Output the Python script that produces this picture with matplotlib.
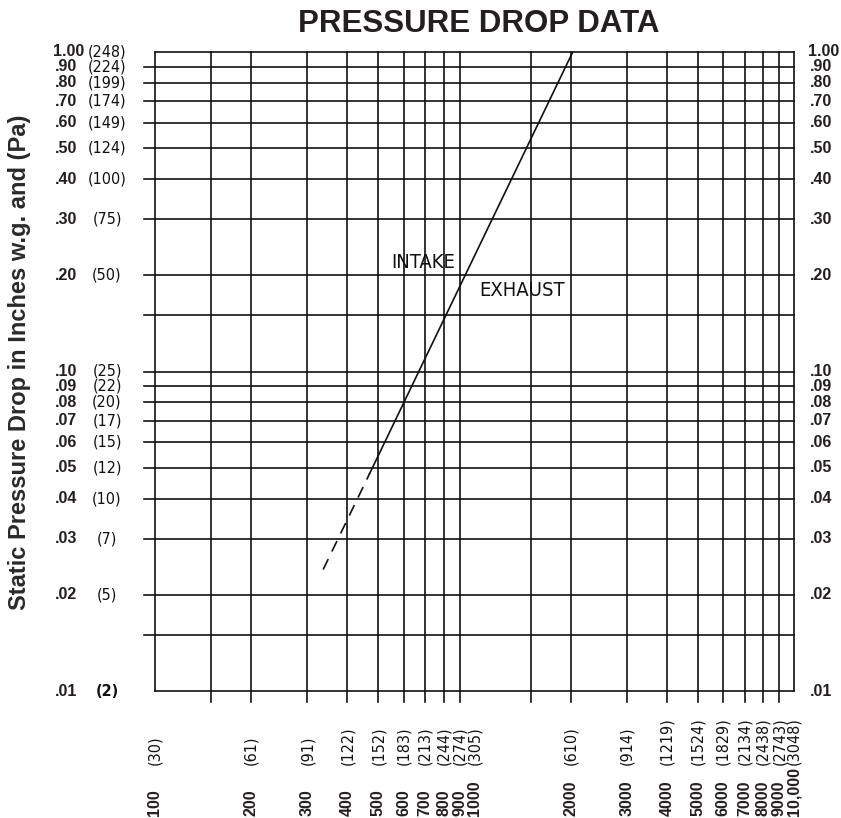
import matplotlib
matplotlib.use("Agg")
import matplotlib.pyplot as plt
from matplotlib.transforms import blended_transform_factory
from matplotlib.ticker import NullLocator

# Pressure axis (inches w.g.) with Pa equivalents
pressure_in = [1.00, 0.90, 0.80, 0.70, 0.60, 0.50, 0.40, 0.30, 0.20,
               0.10, 0.09, 0.08, 0.07, 0.06, 0.05, 0.04, 0.03, 0.02, 0.01]
pressure_text = ["1.00", ".90", ".80", ".70", ".60", ".50", ".40", ".30", ".20",
                 ".10", ".09", ".08", ".07", ".06", ".05", ".04", ".03", ".02", ".01"]
pressure_pa = ["(248)", "(224)", "(199)", "(174)", "(149)", "(124)", "(100)", "(75)", "(50)",
               "(25)", "(22)", "(20)", "(17)", "(15)", "(12)", "(10)", "(7)", "(5)", "(2)"]
pressure_extra = [0.15, 0.015]

# Flow axis with metric equivalents
flow = [100, 200, 300, 400, 500, 600, 700, 800, 900, 1000,
        2000, 3000, 4000, 5000, 6000, 7000, 8000, 9000, 10000]
flow_text = ["100", "200", "300", "400", "500", "600", "700", "800", "900", "1000",
             "2000", "3000", "4000", "5000", "6000", "7000", "8000", "9000", "10,000"]
flow_metric = ["(30)", "(61)", "(91)", "(122)", "(152)", "(183)", "(213)", "(244)", "(274)", "(305)",
               "(610)", "(914)", "(1219)", "(1524)", "(1829)", "(2134)", "(2438)", "(2743)", "(3048)"]
flow_grid = [150, 200, 300, 400, 500, 600, 700, 800, 900,
             1500, 2000, 3000, 4000, 5000, 6000, 7000, 8000, 9000]

# Intake / exhaust curve: extrapolated (dashed) and measured (solid) parts
curve_dash_flow = [336, 470]
curve_dash_dp = [0.024, 0.048]
curve_solid_flow = [470, 2030]
curve_solid_dp = [0.048, 1.00]

INK = "#111111"
TXT = "#231f20"
LW = 1.2

fig = plt.figure(figsize=(8.41, 8.18), dpi=100)
W, H = 841.0, 818.0
ax = fig.add_axes([155 / W, 1 - 691 / H, 639 / W, 639 / H])
ax.set_xscale("log")
ax.set_yscale("log")
ax.set_xlim(100, 10000)
ax.set_ylim(0.01, 1.0)
for axis in (ax.xaxis, ax.yaxis):
    axis.set_major_locator(NullLocator())
    axis.set_minor_locator(NullLocator())
for sp in ax.spines.values():
    sp.set_linewidth(LW)
    sp.set_color(INK)

ext = 11 / 639.0
for p in list(pressure_in[1:-1]) + pressure_extra:
    ax.axhline(p, xmin=-ext, xmax=1, color=INK, lw=LW, clip_on=False, zorder=1)
for q in flow_grid:
    ax.axvline(q, ymin=-ext, ymax=1, color=INK, lw=LW, clip_on=False, zorder=1)

ax.plot(curve_dash_flow, curve_dash_dp, color=INK, lw=LW, linestyle=(0, (7, 5)), zorder=3)
ax.plot(curve_solid_flow, curve_solid_dp, color=INK, lw=LW, zorder=3)

cad = dict(family="DejaVu Sans", fontstretch="condensed", color=INK)
ax.text(550, 0.211, "INTAKE", fontsize=14.5, ha="left", va="baseline", **cad)
ax.text(1037, 0.172, "EXHAUST", fontsize=14.5, ha="left", va="baseline", **cad)

# Pressure labels on both sides
ty = blended_transform_factory(fig.transFigure, ax.transData)
num = dict(family="Liberation Sans", weight="bold", fontsize=11.5, color=TXT)
for p, t, pa in zip(pressure_in, pressure_text, pressure_pa):
    shift = -2 if t == "1.00" else 0
    fig.text((55 + shift) / W, p, t, transform=ty, ha="left", va="center", **num)
    fig.text((810 + shift) / W, p, t, transform=ty, ha="left", va="center", **num)
    w = "bold" if pa == "(2)" else "normal"
    fig.text(107 / W, p, pa, transform=ty, ha="center", va="center",
             fontsize=11.5, weight=w, family="DejaVu Sans", fontstretch="condensed", color=INK)

# Flow labels under the plot
tx = blended_transform_factory(ax.transData, fig.transFigure)
for q, t, m in zip(flow, flow_text, flow_metric):
    fig.text(q, 1 - 816 / H, t, transform=tx, rotation=90, ha="center", va="bottom", **num)
    fig.text(q, 1 - 765 / H, m, transform=tx, rotation=90, ha="center", va="bottom",
             fontsize=11.5, family="DejaVu Sans", fontstretch="condensed", color=INK)

fig.text(478.5 / W, 1 - 32 / H, "PRESSURE DROP DATA", ha="center", va="baseline",
         family="Liberation Sans", weight="bold", fontsize=22.5, color=TXT)
fig.text(20 / W, 1 - 362 / H, "Static Pressure Drop in Inches w.g. and (Pa)",
         rotation=90, ha="center", va="center",
         family="Liberation Sans", weight="bold", fontsize=17, color="#2a2a2a")

fig.savefig("out.png", dpi=100)
